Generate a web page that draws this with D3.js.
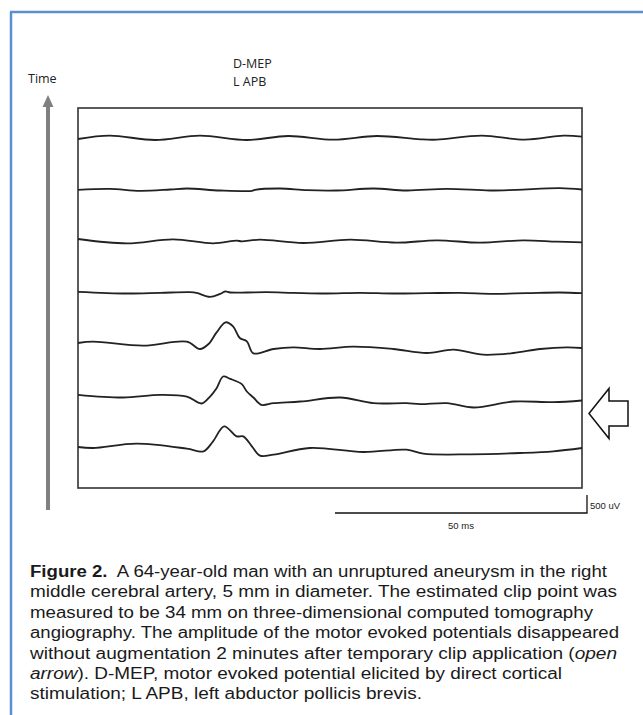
<!DOCTYPE html>
<html>
<head>
<meta charset="utf-8">
<script src="https://cdn.jsdelivr.net/npm/d3@7"></script>
<style>
  body { margin: 0; background: #fff; }
  svg { display: block; }
</style>
</head>
<body>
<div id="graph"></div>
<script>
// traces from top (latest) to bottom (earliest): [ms, uV]
var trace1 = [[0,-28],[6.3,65],[15.3,-56],[24.2,65],[33.5,-56],[41.7,56],[50.7,-46],[59.3,56],[67.9,-37],[71.2,-46],[80.1,65],[88.7,-46],[96.3,65],[100,37]];
var trace2 = [[0,-9],[6.3,19],[12.3,-37],[18.3,0],[21.6,28],[28.2,-28],[34.5,-37],[35.1,-9],[40.1,28],[45.4,-19],[51.3,-28],[58.6,28],[65.2,-28],[73.2,19],[81.7,-28],[87,-9],[95.6,37],[100,0]];
var trace3 = [[0,56],[9.7,-65],[18.9,46],[26.8,-65],[31.5,9],[32.5,-9],[36.1,37],[44.7,-56],[54,37],[63.2,-46],[71.2,19],[79.8,-46],[88.4,19],[95,-19],[100,-37]];
var trace4 = [[0,19],[9.7,-28],[16.3,-9],[22.2,9],[23.5,-9],[26.2,-120],[28.2,-37],[29.2,28],[30.2,0],[33.5,0],[37.4,9],[42.7,-9],[49.3,-28],[55.9,-9],[62.5,-28],[69.2,-19],[75.8,-9],[82.4,-37],[89,-19],[95.6,0],[100,-19]];
var trace5 = [[0,28],[3,65],[12.9,-46],[21.6,65],[24.2,-139],[25.9,0],[27.5,324],[29.3,603],[30.8,482],[32.1,167],[33.5,74],[34.8,-260],[38.8,-139],[42.7,-93],[48,-139],[54.6,-74],[62.5,-139],[69.2,-250],[74.5,-158],[80.4,-297],[86.4,-250],[91.7,-139],[97,-93],[100,-111]];
var trace6 = [[0,19],[8.9,-56],[16.3,19],[21.6,-28],[24.5,-222],[26.2,-28],[27.5,204],[28.8,528],[30.2,463],[32.5,315],[33.5,111],[34.8,-56],[36.4,-260],[38.8,-213],[44.1,-167],[52,-56],[58.6,-213],[65.2,-213],[67.9,-241],[73.2,-213],[78.5,-334],[86.4,-167],[94.3,-185],[100,-139]];
var trace7 = [[0,0],[3,-28],[11.6,93],[21.6,-46],[24.9,-120],[26.8,158],[29,575],[31.5,297],[32.8,297],[34.5,19],[36.1,-241],[38.8,-213],[46,-28],[56.6,-139],[65.2,-74],[68.5,-185],[77.8,-204],[87.7,-167],[94.3,-120],[100,-28]];
var traces = [trace1, trace2, trace3, trace4, trace5, trace6, trace7];

var clipTrace = 5;          // index of trace marked by the open arrow
var scaleMs = 50, scaleUv = 500;

var captionLines = [
  [{t:"Figure 2.", w:"bold"}, {t:"  A 64-year-old man with an unruptured aneurysm in the right"}],
  [{t:"middle cerebral artery, 5 mm in diameter. The estimated clip point was"}],
  [{t:"measured to be 34 mm on three-dimensional computed tomography"}],
  [{t:"angiography. The amplitude of the motor evoked potentials disappeared"}],
  [{t:"without augmentation 2 minutes after temporary clip application ("}, {t:"open", s:"italic"}],
  [{t:"arrow", s:"italic"}, {t:"). D-MEP, motor evoked potential elicited by direct cortical"}],
  [{t:"stimulation; L APB, left abductor pollicis brevis."}]
];
var captionWidths = [577, 587, 563, 589, 587, 532, 392];

var W = 643, H = 715;
var svg = d3.select("#graph").append("svg").attr("width", W).attr("height", H);

// frame
svg.append("line").attr("x1", 11).attr("y1", 12).attr("x2", 11).attr("y2", H)
  .attr("stroke", "#5b8fd0").attr("stroke-width", 2.5);
svg.append("line").attr("x1", 10).attr("y1", 12).attr("x2", W).attr("y2", 12)
  .attr("stroke", "#5b8fd0").attr("stroke-width", 2.5);

var box = {left: 78, right: 582, top: 108, bottom: 488};

var x = d3.scaleLinear().domain([0, 100]).range([box.left, box.right]);
var base = d3.scalePoint().domain(d3.range(traces.length)).range([138, 447]);
var amp = d3.scaleLinear().domain([0, 500]).range([0, 18]);

svg.append("rect")
  .attr("x", box.left).attr("y", box.top)
  .attr("width", box.right - box.left).attr("height", box.bottom - box.top)
  .attr("fill", "none").attr("stroke", "#333").attr("stroke-width", 1.6);

svg.append("g").selectAll("path")
  .data(traces)
  .enter().append("path")
  .attr("d", function(d, i) {
    return d3.line()
      .x(function(p) { return x(p[0]); })
      .y(function(p) { return base(i) - amp(p[1]); })
      .curve(d3.curveCatmullRom.alpha(0.5))(d);
  })
  .attr("fill", "none").attr("stroke", "#222").attr("stroke-width", 1.8)
  .attr("stroke-linejoin", "round");

// time arrow
svg.append("line").attr("x1", 48).attr("x2", 48).attr("y1", 510).attr("y2", 104)
  .attr("stroke", "#808080").attr("stroke-width", 4);
svg.append("path").attr("d", "M48,95 L53.5,107 L42.5,107 Z").attr("fill", "#808080");

svg.append("text").attr("x", 28).attr("y", 83).text("Time")
  .style("font-family", "'Open Sans', sans-serif").style("font-size", "12.5px").attr("fill", "#222");
svg.append("text").attr("x", 233).attr("y", 68).text("D-MEP")
  .style("font-family", "'Open Sans', sans-serif").style("font-size", "12.5px").attr("fill", "#222");
svg.append("text").attr("x", 233).attr("y", 86).text("L APB")
  .style("font-family", "'Open Sans', sans-serif").style("font-size", "12.5px").attr("fill", "#222");

// open arrow at clip trace
var ay = base(clipTrace) + 18, ax = box.right + 7;
svg.append("path")
  .attr("d", "M" + ax + "," + ay + " L" + (ax + 20) + "," + (ay - 25) + " L" + (ax + 20) + "," + (ay - 12.5) +
             " L" + (ax + 39) + "," + (ay - 12.5) + " L" + (ax + 39) + "," + (ay + 12.5) +
             " L" + (ax + 20) + "," + (ay + 12.5) + " L" + (ax + 20) + "," + (ay + 25) + " Z")
  .attr("fill", "#fff").attr("stroke", "#111").attr("stroke-width", 1.5);

// scale bar
var sbX = 587, sbY = 513;
var sbLen = x(scaleMs) - x(0), sbH = amp(scaleUv);
svg.append("path")
  .attr("d", "M" + (sbX - sbLen) + "," + sbY + " L" + sbX + "," + sbY + " L" + sbX + "," + (sbY - sbH))
  .attr("fill", "none").attr("stroke", "#111").attr("stroke-width", 1.3);
svg.append("text").attr("x", sbX + 3).attr("y", sbY - 4).text(scaleUv + " uV")
  .style("font-family", "'Liberation Sans', Arial, sans-serif").style("font-size", "9.5px").attr("fill", "#222");
svg.append("text").attr("x", sbX - sbLen / 2).attr("y", sbY + 16).attr("text-anchor", "middle").text(scaleMs + " ms")
  .style("font-family", "'Liberation Sans', Arial, sans-serif").style("font-size", "9.5px").attr("fill", "#222");

// caption
var cap = svg.append("g").style("font-family", "'Liberation Sans', Arial, sans-serif")
  .style("font-size", "16px").attr("fill", "#1a1a1a");
captionLines.forEach(function(line, i) {
  var t = cap.append("text").attr("x", 30).attr("y", 577 + i * 20.4)
    .attr("textLength", captionWidths[i]).attr("lengthAdjust", "spacingAndGlyphs")
    .attr("xml:space", "preserve").style("white-space", "pre");
  line.forEach(function(seg) {
    t.append("tspan").text(seg.t)
      .style("font-weight", seg.w || "normal")
      .style("font-style", seg.s || "normal");
  });
});
</script>
</body>
</html>
